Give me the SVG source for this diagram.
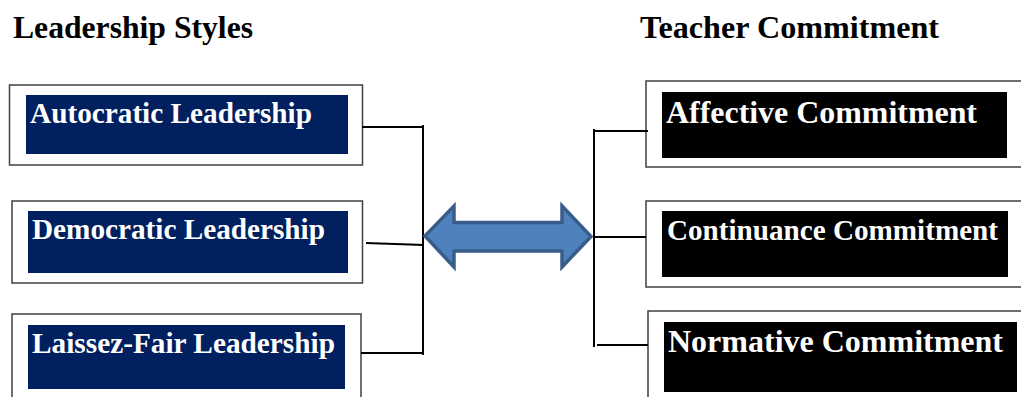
<svg xmlns="http://www.w3.org/2000/svg" width="1021" height="397" viewBox="0 0 1021 397">
<style>
.hdr{font-family:"Liberation Serif","Times New Roman",serif;font-weight:bold;font-size:32px;fill:#000}
.outer{fill:#fff;stroke:#404040;stroke-width:1.5}
.navy{fill:#002060}
.blk{fill:#000}
.lbl{font-family:"Liberation Serif","Times New Roman",serif;font-weight:bold;fill:#fff}
.conn{stroke:#000;stroke-width:2;fill:none}
</style>
<rect width="1021" height="397" fill="#fff"/>
<text class="hdr" x="13" y="38" textLength="240" lengthAdjust="spacingAndGlyphs">Leadership Styles</text>
<text class="hdr" x="640" y="38" textLength="299" lengthAdjust="spacingAndGlyphs">Teacher Commitment</text>

<g id="autocratic">
<rect class="outer" x="9.5" y="85" width="353" height="80"/>
<rect class="navy" x="26" y="95" width="322" height="59"/>
<text class="lbl" x="30" y="123" font-size="29" textLength="282" lengthAdjust="spacingAndGlyphs">Autocratic Leadership</text>
</g>
<g id="democratic">
<rect class="outer" x="12" y="201" width="350.5" height="82"/>
<rect class="navy" x="28" y="211" width="320" height="62"/>
<text class="lbl" x="32" y="239" font-size="29" textLength="293" lengthAdjust="spacingAndGlyphs">Democratic Leadership</text>
</g>
<g id="laissez">
<rect class="outer" x="12" y="314" width="349" height="90"/>
<rect class="navy" x="28" y="325" width="317" height="64"/>
<text class="lbl" x="32" y="353" font-size="29" textLength="303" lengthAdjust="spacingAndGlyphs">Laissez-Fair Leadership</text>
</g>

<g id="affective">
<rect class="outer" x="646" y="81" width="380" height="86"/>
<rect class="blk" x="662" y="92" width="345" height="66"/>
<text class="lbl" x="666" y="123" font-size="32" textLength="311" lengthAdjust="spacingAndGlyphs">Affective Commitment</text>
</g>
<g id="continuance">
<rect class="outer" x="646" y="201" width="380" height="86"/>
<rect class="blk" x="662" y="211" width="346" height="66"/>
<text class="lbl" x="667" y="240" font-size="29" textLength="331" lengthAdjust="spacingAndGlyphs">Continuance Commitment</text>
</g>
<g id="normative">
<rect class="outer" x="648" y="311" width="380" height="95"/>
<rect class="blk" x="664" y="322" width="353" height="70"/>
<text class="lbl" x="668" y="352" font-size="32" textLength="335" lengthAdjust="spacingAndGlyphs">Normative Commitment</text>
</g>

<g id="connectors">
<path class="conn" d="M362,127 H423 M423,125 V355 M366,243 L424,245 M361,353 H424"/>
<path class="conn" d="M594,129 V347 M594,131 H648 M594,237 H646 M597,345 H648"/>
<path id="double-arrow" d="M425,236 L454,206 L454,222.5 L562,222.5 L562,206 L591,236.5 L562,267 L562,251 L454,251 L454,267 Z" fill="#4F81BD" stroke="#385D8A" stroke-width="3.5" stroke-linejoin="miter"/>
</g>
</svg>
